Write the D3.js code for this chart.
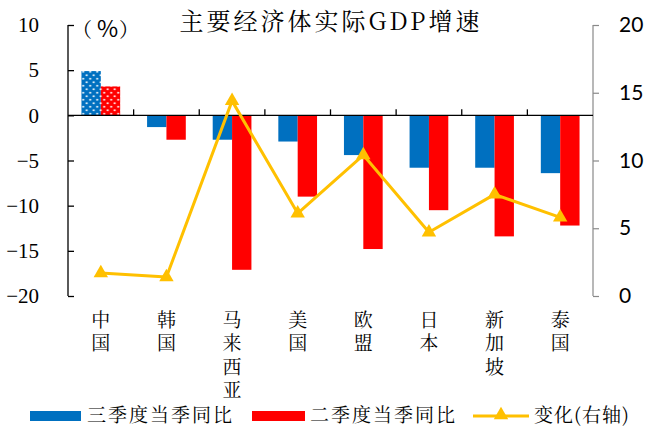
<!DOCTYPE html>
<html>
<head>
<meta charset="utf-8">
<script src="https://cdn.jsdelivr.net/npm/d3@7"></script>
<style>
  html, body { margin: 0; padding: 0; background: #fff; }
  svg { display: block; }
</style>
</head>
<body>
<svg id="chart" width="659" height="427"></svg>
<script>
// 各经济体实际GDP同比增速（%）及变化（百分点）
const categories = ["中国", "韩国", "马来西亚", "美国", "欧盟", "日本", "新加坡", "泰国"];
const q3Values = [4.9, -1.3, -2.7, -2.9, -4.4, -5.8, -5.8, -6.4];
const q2Values = [3.2, -2.7, -17.1, -9.0, -14.8, -10.5, -13.4, -12.2];
const changeValues = [1.7, 1.4, 14.4, 6.1, 10.4, 4.7, 7.5, 5.8];
const leftTicks = [10, 5, 0, -5, -10, -15, -20];
const rightTicks = [0, 5, 10, 15, 20];
const seriesNames = ["三季度当季同比", "二季度当季同比", "变化(右轴)"];

const BLUE = "#0070C0", RED = "#FF0000", GOLD = "#FFC000";
const cjkFont = "'Noto Serif CJK SC', 'Noto Sans CJK SC', serif";
const serifFont = "'Liberation Serif', 'Times New Roman', serif";

const svg = d3.select("#chart");
const plot = { left: 68, right: 593, top: 25, bottom: 296 };

// 点状填充，用于标示中国的柱形
const defs = svg.append("defs");
[["dotsBlue", BLUE], ["dotsRed", RED]].forEach(([id, col]) => {
  const p = defs.append("pattern").attr("id", id)
    .attr("patternUnits", "userSpaceOnUse").attr("width", 7).attr("height", 7);
  p.append("rect").attr("width", 7).attr("height", 7).attr("fill", col);
  p.append("circle").attr("cx", 1.75).attr("cy", 1.75).attr("r", 1).attr("fill", "#fff");
  p.append("circle").attr("cx", 5.25).attr("cy", 5.25).attr("r", 1).attr("fill", "#fff");
});

const x0 = d3.scaleBand().domain(categories)
  .range([plot.left, plot.right]).paddingInner(0.41).paddingOuter(0.205);
const x1 = d3.scaleBand().domain(["q3", "q2"]).range([0, x0.bandwidth()]);
const yL = d3.scaleLinear().domain([-20, 10]).range([plot.bottom, plot.top]);
const yR = d3.scaleLinear().domain([0, 20]).range([plot.bottom, plot.top]);

// 柱形
const groups = svg.append("g").selectAll("g").data(categories).join("g")
  .attr("transform", d => `translate(${x0(d)},0)`);
groups.each(function (c, i) {
  const g = d3.select(this);
  [["q3", q3Values[i], BLUE, "dotsBlue"], ["q2", q2Values[i], RED, "dotsRed"]].forEach(([k, v, col, pat]) => {
    g.append("rect")
      .attr("x", x1(k)).attr("width", x1.bandwidth())
      .attr("y", Math.min(yL(v), yL(0)))
      .attr("height", Math.abs(yL(v) - yL(0)))
      .attr("fill", i === 0 ? `url(#${pat})` : col);
  });
});

// 左轴
const leftAxis = svg.append("g").attr("transform", `translate(${plot.left},0)`)
  .call(d3.axisLeft(yL).tickValues(leftTicks).tickSize(-6).tickPadding(29));
leftAxis.attr("font-family", null).attr("font-size", null);
leftAxis.select(".domain").attr("d", `M0,${plot.top}V${plot.bottom}`).attr("stroke", "#000").attr("stroke-width", 1.3);
leftAxis.selectAll(".tick line").attr("stroke", "#000").attr("stroke-width", 1.3);
leftAxis.selectAll(".tick text")
  .style("font-family", serifFont).style("font-size", "21px").attr("fill", "#000");

// 右轴
const rightAxis = svg.append("g").attr("transform", `translate(${plot.right},0)`)
  .call(d3.axisRight(yR).tickValues(rightTicks).tickSize(6).tickPadding(20));
rightAxis.attr("font-family", null).attr("font-size", null);
rightAxis.select(".domain").attr("d", `M0,${plot.top}V${plot.bottom}`).attr("stroke", "#898989").attr("stroke-width", 1.2);
rightAxis.selectAll(".tick line").attr("stroke", "#898989").attr("stroke-width", 1.2);
rightAxis.selectAll(".tick text")
  .style("font-family", "Lato, sans-serif").style("font-size", "21px").attr("fill", "#000");

// 零值处的分类轴
const zeroY = yL(0);
const catAxis = svg.append("g");
catAxis.append("line").attr("x1", plot.left).attr("x2", plot.right)
  .attr("y1", zeroY).attr("y2", zeroY).attr("stroke", "#000").attr("stroke-width", 1.3);
catAxis.selectAll("line.tk").data(categories.slice(1)).join("line").attr("class", "tk")
  .attr("x1", d => x0(d) - x0.step() * x0.paddingInner() / 2)
  .attr("x2", d => x0(d) - x0.step() * x0.paddingInner() / 2)
  .attr("y1", zeroY).attr("y2", zeroY - 6).attr("stroke", "#000").attr("stroke-width", 1.3);

// 分类标签（竖排）
svg.append("g").selectAll("text").data(categories).join("text")
  .attr("x", d => x0(d) + x0.bandwidth() / 2)
  .attr("y", 310)
  .style("writing-mode", "vertical-rl")
  .style("text-orientation", "upright")
  .attr("letter-spacing", 4.5)
  .attr("font-family", cjkFont).attr("font-size", 19).attr("fill", "#000")
  .text(d => d);

// 变化折线（右轴）
const pts = categories.map((c, i) => [x0(c) + x0.bandwidth() / 2, yR(changeValues[i])]);
svg.append("path").datum(pts)
  .attr("d", d3.line())
  .attr("fill", "none").attr("stroke", GOLD).attr("stroke-width", 3).attr("stroke-linejoin", "round");
const tri = d3.symbol().type(d3.symbolTriangle).size(90);
svg.append("g").selectAll("path").data(pts).join("path")
  .attr("transform", d => `translate(${d[0]},${d[1]})`)
  .attr("d", tri).attr("fill", GOLD);

// 标题与单位
svg.append("text").attr("x", 331).attr("y", 30).attr("text-anchor", "middle")
  .attr("font-family", cjkFont).attr("font-size", 24).attr("letter-spacing", 3)
  .attr("fill", "#000").text("主要经济体实际GDP增速");
const unit = svg.append("text").attr("y", 37).attr("font-family", cjkFont).attr("font-size", 20).attr("fill", "#000");
unit.append("tspan").attr("x", 72).text("（");
unit.append("tspan").attr("x", 97).attr("font-family", "'Noto Sans CJK SC', sans-serif").attr("font-size", 23).text("%");
unit.append("tspan").attr("x", 119).text("）");

// 图例
const lg = svg.append("g").attr("font-family", cjkFont).attr("font-size", 19).attr("fill", "#000");
lg.append("rect").attr("x", 30).attr("y", 411).attr("width", 51).attr("height", 10).attr("fill", BLUE);
lg.append("text").attr("x", 87).attr("y", 422).attr("letter-spacing", 2).text(seriesNames[0]);
lg.append("rect").attr("x", 252).attr("y", 411).attr("width", 53).attr("height", 10).attr("fill", RED);
lg.append("text").attr("x", 310).attr("y", 422).attr("letter-spacing", 2).text(seriesNames[1]);
lg.append("line").attr("x1", 473).attr("x2", 529).attr("y1", 416).attr("y2", 416)
  .attr("stroke", GOLD).attr("stroke-width", 3);
lg.append("path").attr("transform", "translate(501,415)").attr("d", tri).attr("fill", GOLD);
lg.append("text").attr("x", 534).attr("y", 422).attr("letter-spacing", 1).text(seriesNames[2]);
</script>
</body>
</html>
